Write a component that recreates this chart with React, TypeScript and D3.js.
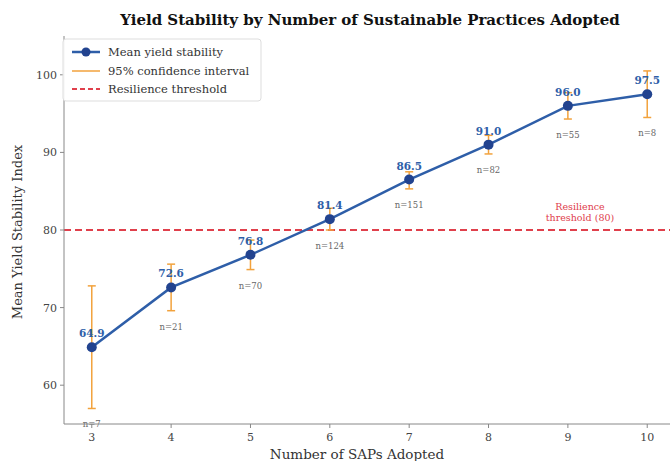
import React from "react";
import * as d3 from "d3";

const practices = [3, 4, 5, 6, 7, 8, 9, 10];
const meanYield = [64.9, 72.6, 76.8, 81.4, 86.5, 91.0, 96.0, 97.5];
const ciLow = [57.0, 69.6, 74.9, 80.0, 85.3, 89.8, 94.3, 94.5];
const ciHigh = [72.8, 75.6, 78.7, 82.8, 87.5, 92.2, 97.7, 100.5];
const sampleSize = [7, 21, 70, 124, 151, 82, 55, 8];
const yTicks = [60, 70, 80, 90, 100];
const threshold = 80;

const W = 670;
const H = 461;
const font = "'DejaVu Serif', serif";

const lineColor = "#2e5ea8";
const markerColor = "#22438f";
const ciColor = "#f2a23c";
const threshColor = "#e0404c";

export default function App() {
  const x = d3.scaleLinear().domain([2.65, 10.35]).range([64, 675]);
  const y = d3.scaleLinear().domain([55, 105]).range([424, 36]);

  const line = d3
    .line<number>()
    .x((_, i) => x(practices[i]))
    .y((d) => y(d));

  return (
    <svg
      width={W}
      height={H}
      style={{ position: "absolute", left: 0, top: 0, background: "#fff" }}
      fontFamily={font}
    >
      <text x={370} y={25} textAnchor="middle" fontSize={15} fontWeight="bold" fill="#111">
        Yield Stability by Number of Sustainable Practices Adopted
      </text>

      {/* threshold */}
      <line
        x1={64}
        x2={W}
        y1={y(threshold)}
        y2={y(threshold)}
        stroke={threshColor}
        strokeWidth={2}
        strokeDasharray="7,4"
      />
      <text x={580} y={y(threshold) - 20} textAnchor="middle" fontSize={9.5} fill={threshColor}>
        <tspan x={580}>Resilience</tspan>
        <tspan x={580} dy={11}>threshold (80)</tspan>
      </text>

      {/* confidence intervals */}
      {practices.map((p, i) => (
        <g key={"ci" + p} stroke={ciColor} strokeWidth={1.5}>
          <line x1={x(p)} x2={x(p)} y1={y(ciLow[i])} y2={y(ciHigh[i])} />
          <line x1={x(p) - 4} x2={x(p) + 4} y1={y(ciLow[i])} y2={y(ciLow[i])} />
          <line x1={x(p) - 4} x2={x(p) + 4} y1={y(ciHigh[i])} y2={y(ciHigh[i])} />
        </g>
      ))}

      <path d={line(meanYield) || ""} fill="none" stroke={lineColor} strokeWidth={2.5} />
      {practices.map((p, i) => (
        <circle key={"m" + p} cx={x(p)} cy={y(meanYield[i])} r={5} fill={markerColor} />
      ))}

      {practices.map((p, i) => (
        <text
          key={"v" + p}
          x={x(p)}
          y={y(meanYield[i]) - 10}
          textAnchor="middle"
          fontSize={10.5}
          fontWeight="bold"
          fill={lineColor}
        >
          {meanYield[i].toFixed(1)}
        </text>
      ))}
      {practices.map((p, i) => (
        <text
          key={"n" + p}
          x={x(p)}
          y={y(ciLow[i]) + 19}
          textAnchor="middle"
          fontSize={8.5}
          fill="#666"
        >
          {"n=" + sampleSize[i]}
        </text>
      ))}

      {/* axes */}
      <line x1={64} x2={64} y1={36} y2={424} stroke="#888" strokeWidth={1} />
      <line x1={64} x2={W} y1={424} y2={424} stroke="#888" strokeWidth={1} />
      {yTicks.map((t) => (
        <g key={"yt" + t}>
          <line x1={60} x2={64} y1={y(t)} y2={y(t)} stroke="#888" />
          <text x={57} y={y(t) + 4} textAnchor="end" fontSize={11} fill="#444">
            {t}
          </text>
        </g>
      ))}
      {practices.map((p) => (
        <g key={"xt" + p}>
          <line x1={x(p)} x2={x(p)} y1={424} y2={428} stroke="#888" />
          <text x={x(p)} y={441} textAnchor="middle" fontSize={11} fill="#444">
            {p}
          </text>
        </g>
      ))}
      <text x={357} y={459} textAnchor="middle" fontSize={13.5} fill="#333">
        Number of SAPs Adopted
      </text>
      <text
        transform="translate(22,232) rotate(-90)"
        textAnchor="middle"
        fontSize={13}
        fill="#333"
      >
        Mean Yield Stability Index
      </text>

      {/* legend */}
      <g>
        <rect x={63} y={39} width={198} height={62} rx={3} fill="#fff" fillOpacity={0.9} stroke="#ddd" />
        <line x1={72} x2={100} y1={52} y2={52} stroke={lineColor} strokeWidth={2.5} />
        <circle cx={86} cy={52} r={4.5} fill={markerColor} />
        <line x1={72} x2={100} y1={71} y2={71} stroke={ciColor} strokeWidth={1.5} />
        <line x1={72} x2={100} y1={89} y2={89} stroke={threshColor} strokeWidth={2} strokeDasharray="5,3" />
        <text x={108} y={56} fontSize={11.5} fill="#333">Mean yield stability</text>
        <text x={108} y={75} fontSize={11.5} fill="#333">95% confidence interval</text>
        <text x={108} y={93} fontSize={11.5} fill="#333">Resilience threshold</text>
      </g>
    </svg>
  );
}
